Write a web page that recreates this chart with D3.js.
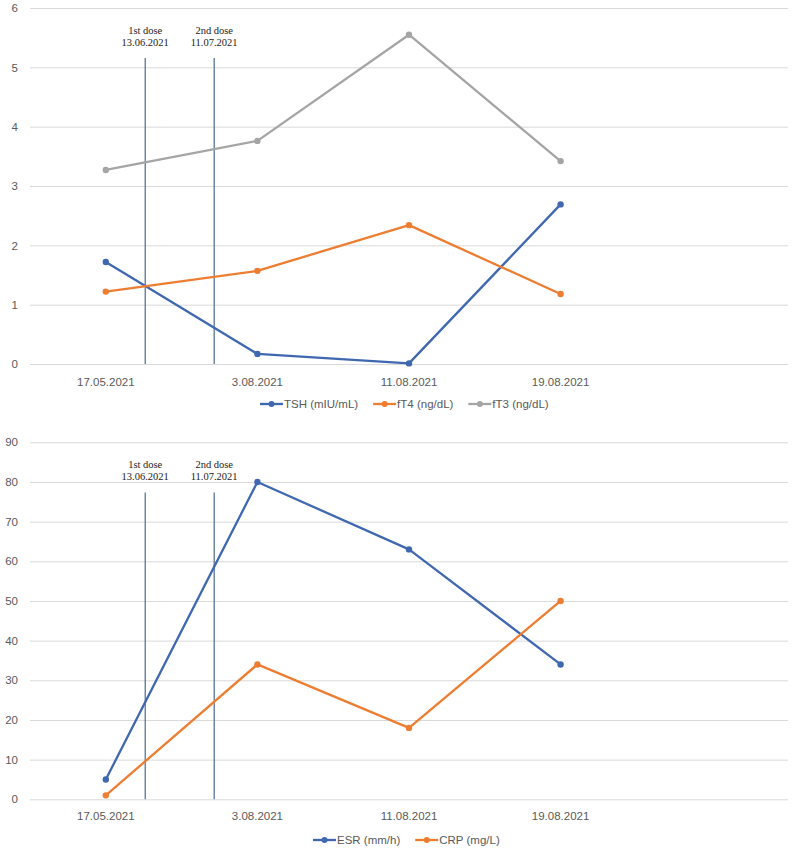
<!DOCTYPE html>
<html><head><meta charset="utf-8">
<script src="https://cdn.jsdelivr.net/npm/d3@7"></script>
<style>body{margin:0;background:#fff}svg{display:block}</style>
</head><body>
<svg id="c" width="800" height="849"></svg>
<script>
const categories = ["17.05.2021","3.08.2021","11.08.2021","19.08.2021",""];
const tsh = [1.72, 0.17, 0.01, 2.69];
const ft4 = [1.22, 1.57, 2.34, 1.18];
const ft3 = [3.27, 3.76, 5.55, 3.42];
const esr = [5, 80, 63, 34];
const crp = [1, 34, 18, 50];
const topTicks = [0,1,2,3,4,5,6];
const botTicks = [0,10,20,30,40,50,60,70,80,90];
const doseLabels = [["1st dose","13.06.2021"],["2nd dose","11.07.2021"]];
const doseIndex = [0.26, 0.715];
const topSeries = [
  {name:"TSH (mIU/mL)", values:tsh, color:"#4068b0"},
  {name:"fT4 (ng/dL)", values:ft4, color:"#ed7d31"},
  {name:"fT3 (ng/dL)", values:ft3, color:"#a5a5a5"}
];
const botSeries = [
  {name:"ESR (mm/h)", values:esr, color:"#4068b0"},
  {name:"CRP (mg/L)", values:crp, color:"#ed7d31"}
];

const svg = d3.select("#c");
const x = d3.scaleBand().domain(categories.map((c,i)=>i)).range([30,788]);
const xc = i => x(i) + x.bandwidth()/2;
const xi = d3.scaleLinear().domain([0,1]).range([xc(0), xc(1)]);

function drawChart(cfg){
  const y = d3.scaleLinear().domain([0, cfg.max]).range([cfg.y0, cfg.y1]);
  const g = svg.append("g");
  // gridlines
  g.append("g").call(d3.axisLeft(y).tickValues(cfg.ticks).tickSize(-(788-30)).tickFormat(d3.format("d")))
    .attr("transform","translate(30,0)")
    .call(a=>{a.select(".domain").remove();
      a.selectAll(".tick line").attr("stroke","#d9d9d9").attr("stroke-width",1);
      a.selectAll(".tick text").attr("x",-12).attr("fill","#595959")
        .style("font-family","'Liberation Sans',Arial,sans-serif").style("font-size","11.5px");});
  // x labels
  g.append("g").selectAll("text").data(categories).join("text")
    .attr("x",(d,i)=>xc(i)).attr("y",cfg.labelY).attr("text-anchor","middle")
    .attr("fill","#595959").style("font-family","'Liberation Sans',Arial,sans-serif").style("font-size","11.5px")
    .text(d=>d);
  // dose lines
  doseIndex.forEach((d,k)=>{
    g.append("line").attr("x1",xi(d)).attr("x2",xi(d)).attr("y1",cfg.doseTop).attr("y2",y(0))
      .attr("stroke","#4a6a8e").attr("stroke-width",1.2);
    doseLabels[k].forEach((t,j)=>{
      g.append("text").attr("x",xi(d)).attr("y",cfg.doseTextY + j*12).attr("text-anchor","middle")
        .attr("fill","#222").style("font-family","'Liberation Serif','Times New Roman',serif").style("font-size","10.5px").text(t);
    });
  });
  // series
  const line = d3.line().x((d,i)=>xc(i)).y(d=>y(d));
  cfg.series.forEach(s=>{
    g.append("path").attr("d",line(s.values)).attr("fill","none").attr("stroke",s.color)
      .attr("stroke-width",2.3).attr("stroke-linejoin","round");
    g.selectAll(null).data(s.values).join("circle").attr("cx",(d,i)=>xc(i)).attr("cy",d=>y(d))
      .attr("r",3.2).attr("fill",s.color);
  });
  // legend
  let lx = cfg.legendX;
  cfg.series.forEach(s=>{
    g.append("line").attr("x1",lx).attr("x2",lx+23).attr("y1",cfg.legendY).attr("y2",cfg.legendY)
      .attr("stroke",s.color).attr("stroke-width",2.3);
    g.append("circle").attr("cx",lx+11.5).attr("cy",cfg.legendY).attr("r",3).attr("fill",s.color);
    const t = g.append("text").attr("x",lx+24).attr("y",cfg.legendY+4).attr("fill","#595959")
      .style("font-family","'Liberation Sans',Arial,sans-serif").style("font-size","11.5px").text(s.name);
    lx += 24 + t.node().getComputedTextLength() + 15;
  });
}

drawChart({max:6, y0:364, y1:8, ticks:topTicks, labelY:386, doseTop:58, doseTextY:34,
  series:topSeries, legendX:260, legendY:404});
drawChart({max:90, y0:799.3, y1:442.3, ticks:botTicks, labelY:820, doseTop:492.5, doseTextY:468,
  series:botSeries, legendX:313, legendY:840});
</script>
</body></html>
